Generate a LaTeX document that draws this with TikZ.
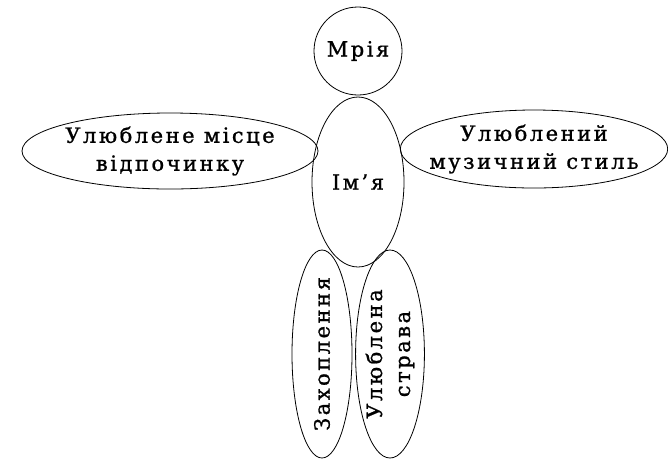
\documentclass[tikz,border=0pt]{standalone}
\usepackage{fontspec}
\setmainfont[LetterSpace=12,FakeBold=1]{DejaVu Serif}
\usetikzlibrary{shapes}

\tikzset{oval/.style={draw, ellipse, inner xsep=-10pt, inner ysep=0pt, align=center,
    font=\fontsize{21}{28}\selectfont}}

\begin{document}
\begin{tikzpicture}[x=1pt,y=-1pt,line width=0.8pt]
\useasboundingbox (0,0) rectangle (668,459);
\node[oval,minimum width=88,minimum height=88] (mriya) at (358,51) {Мрія};
\node[oval,minimum width=92,minimum height=170] (imya) at (358,182) {Ім’я};
\node[oval,minimum width=296,minimum height=76] (misce) at (170,151)
  {Улюблене місце\\відпочинку};
\node[oval,minimum width=266,minimum height=78] (styl) at (534,149)
  {Улюблений\\музичний стиль};
\node[oval,rotate=90,minimum width=208,minimum height=60] (hobby) at (322,354)
  {Захоплення};
\node[oval,rotate=90,minimum width=208,minimum height=64] (strava) at (390,354)
  {Улюблена\\страва};
\end{tikzpicture}
\end{document}
